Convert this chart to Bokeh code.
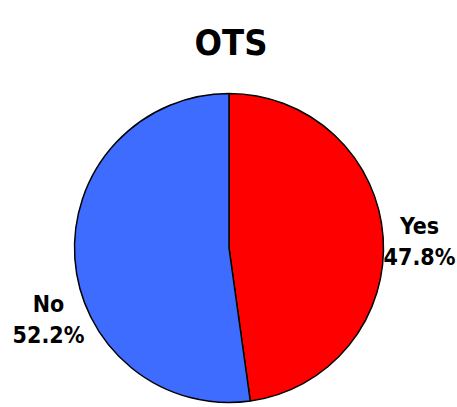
import math
from bokeh.plotting import figure
from bokeh.models import Range1d, ColumnDataSource
from bokeh.core.properties import value
from bokeh.embed import file_html
from bokeh.resources import INLINE

# ---- data ----
title_text = "OTS"
categories = ["Yes", "No"]
percents = [47.8, 52.2]
colors = ["#ff0000", "#3e6cff"]

# ---- layout (page pixel coordinates) ----
W, H = 457, 407
cx_px, cy_px, radius = 228.5, 247.5, 154.5
label_px = [419, 48]
label_base_py = [225, 303]
line_gap = 31
FONT = "DejaVu Sans Condensed, Roboto"

p = figure(width=W, height=H, output_backend="svg", toolbar_location=None,
           x_range=Range1d(0, W), y_range=Range1d(0, H),
           min_border=0, outline_line_color=None)
p.axis.visible = False
p.grid.visible = False
p.background_fill_color = "white"
p.border_fill_color = "white"

# wedges from data, clockwise starting at 12 o'clock
total = sum(percents)
starts, ends = [], []
a = math.pi / 2
for v in percents:
    starts.append(a)
    a = a - 2 * math.pi * v / total
    ends.append(a)

src = ColumnDataSource(dict(x=[cx_px] * len(categories), y=[H - cy_px] * len(categories),
                            start=starts, end=ends, color=colors, cat=categories))
p.wedge(x="x", y="y", radius=radius, start_angle="start", end_angle="end",
        direction="clock", fill_color="color", line_color="black", line_width=1.5,
        source=src)

# labels
names = categories
pcts = [f"{v:.1f}%" for v in percents]
lx = label_px
ly1 = [H - b for b in label_base_py]
ly2 = [H - (b + line_gap) for b in label_base_py]
p.text(x=lx, y=ly1, text=names, text_font=value(FONT), text_font_style="bold",
       text_font_size="23px", text_align="center", text_baseline="alphabetic",
       text_color="black")
p.text(x=lx, y=ly2, text=pcts, text_font=value(FONT), text_font_style="bold",
       text_font_size="23px", text_align="center", text_baseline="alphabetic",
       text_color="black")

# title
p.text(x=[230.5], y=[H - 42], text=[title_text], text_font=value(FONT),
       text_font_style="bold", text_font_size="36px", text_align="center",
       text_baseline="alphabetic", text_color="black")

open("out.html", "w").write(file_html(p, INLINE))
